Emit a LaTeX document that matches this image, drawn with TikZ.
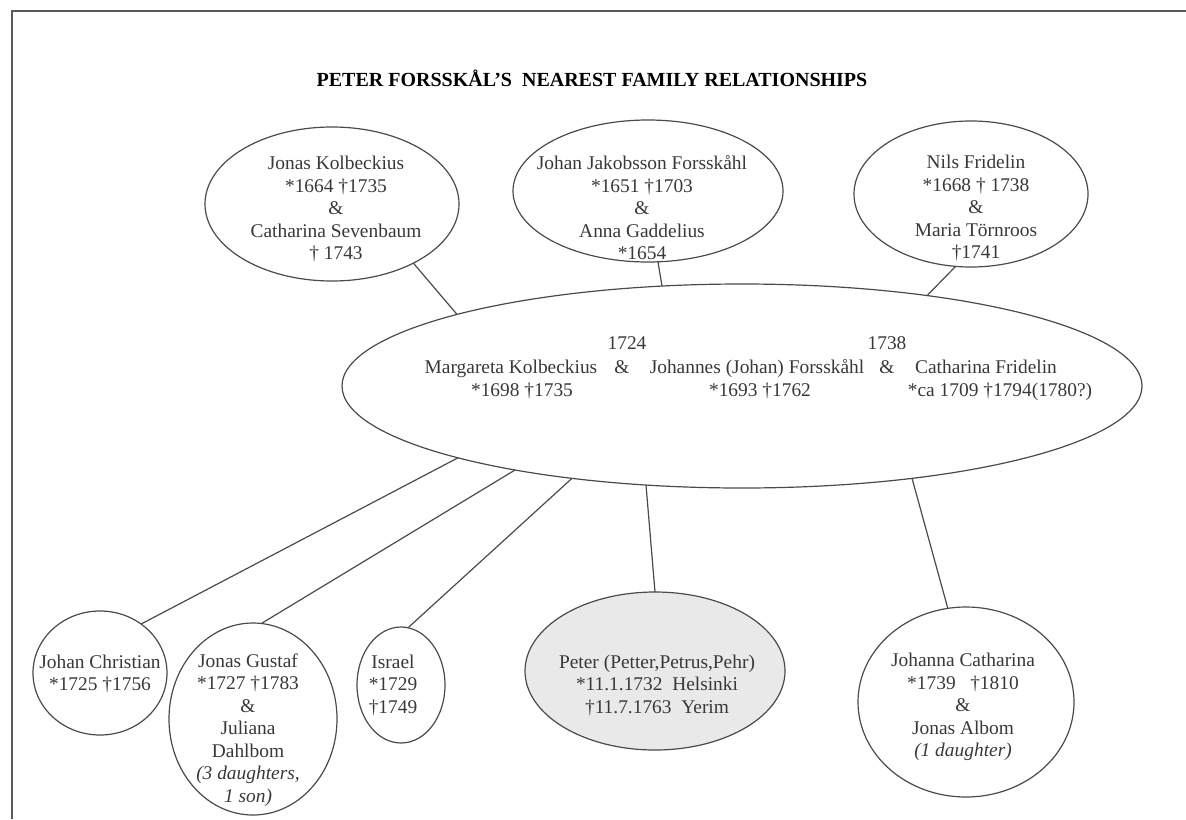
\documentclass[tikz,border=0pt]{standalone}
\usepackage{fontspec}
\setmainfont{Liberation Serif}
\usetikzlibrary{shapes.geometric}
\definecolor{linec}{HTML}{4A4A4A}
\definecolor{textc}{HTML}{383838}
\definecolor{framec}{HTML}{5A5A5A}
\definecolor{peterfill}{HTML}{E9E9E9}
\tikzset{
  fam/.style={ellipse, draw=linec, line width=0.6pt, inner sep=0pt, outer sep=0pt},
  txt/.style={align=center, text=textc, inner sep=0pt, font=\fontsize{9.7}{11.25}\selectfont},
  one/.style={txt, text height=6.5pt, text depth=0pt},
  link/.style={draw=linec, line width=0.6pt},
  frame/.style={draw=framec, line width=0.8pt}
}
\begin{document}
\begin{tikzpicture}[x=0.5pt, y=-0.5pt]
\useasboundingbox (0,0) rectangle (1186,819);
% frame
\coordinate (fa) at (12,819);
\coordinate (fb) at (12,11);
\coordinate (fc) at (1186,11);
\draw[frame] (fa) -- (fb) -- (fc);
% title
\node[text=black, inner sep=0pt, font=\fontsize{10}{12}\selectfont\bfseries] (title) at (592,78) {PETER FORSSKÅL'S\ \ NEAREST FAMILY RELATIONSHIPS};
% top ellipses
\node[fam, minimum width=127pt, minimum height=77pt] (e1) at (332,204) {};
\node[txt] (e1t) at (336,209) {Jonas Kolbeckius\\ *1664 †1735\\ \&\\ Catharina Sevenbaum\\ † 1743};
\node[fam, minimum width=135pt, minimum height=71pt] (e2) at (648,191) {};
\node[txt] (e2t) at (642,208) {Johan Jakobsson Forsskåhl\\ *1651 †1703\\ \&\\ Anna Gaddelius\\ *1654};
\node[fam, minimum width=117pt, minimum height=73pt] (e3) at (971,194) {};
\node[txt] (e3t) at (976,208) {Nils Fridelin\\ *1668 † 1738\\ \&\\ Maria Törnroos\\ †1741};
% big ellipse
\node[fam, minimum width=400pt, minimum height=102pt] (big) at (742,386) {};
\node[one] (y1724) at (627,343) {1724};
\node[one] (y1738) at (887,343) {1738};
\node[one] (mk) at (511,367) {Margareta Kolbeckius};
\node[one] (amp1) at (622,367) {\&};
\node[one] (jf) at (757,367) {Johannes (Johan) Forsskåhl};
\node[one] (amp2) at (887,367) {\&};
\node[one] (cf) at (986,367) {Catharina Fridelin};
\node[one] (mkd) at (522,390) {*1698 †1735};
\node[one] (jfd) at (760,390) {*1693 †1762};
\node[one] (cfd) at (1000,390) {*ca 1709 †1794(1780?)};
% children
\node[fam, minimum width=67pt, minimum height=62pt] (jc) at (100,673) {};
\node[txt] (jct) at (100,674) {Johan Christian\\ *1725 †1756};
\node[fam, minimum width=84pt, minimum height=96pt] (jg) at (253,719) {};
\node[txt] (jgt) at (248,730) {Jonas Gustaf\\ *1727 †1783\\ \&\\ Juliana\\ Dahlbom\\ \textit{(3 daughters,}\\ \textit{1 son)}};
\node[fam, minimum width=44pt, minimum height=58pt] (is) at (401,685) {};
\node[txt] (ist) at (393,685) {Israel\\ *1729\\ †1749};
\node[fam, fill=peterfill, minimum width=130pt, minimum height=79pt] (pe) at (655,671) {};
\node[txt] (pet) at (657,685) {Peter (Petter,Petrus,Pehr)\\ *11.1.1732\ \ Helsinki\\ †11.7.1763\ \ Yerim};
\node[fam, minimum width=108pt, minimum height=95pt] (jo) at (966,702) {};
\node[txt] (jot) at (963,707) {Johanna Catharina\\ *1739\ \ \ †1810\\ \&\\ Jonas Albom\\ \textit{(1 daughter)}};
% connectors
\draw[link] (e1.-36.5) -- ([shift={(-285,-71.6)}]big.center);
\draw[link] (e2.-82.6) -- ([shift={(-80,-100)}]big.center);
\draw[link] (e3.-102.2) -- ([shift={(185,-90.4)}]big.center);
\draw[link] ([shift={(-284,71.8)}]big.center) -- (jc.50.9);
\draw[link] ([shift={(-227,84)}]big.center) -- (jg.85.8);
\draw[link] ([shift={(-170,92.3)}]big.center) -- (is.83.3);
\draw[link] ([shift={(-96,99)}]big.center) -- (pe.90);
\draw[link] ([shift={(170,92.3)}]big.center) -- (jo.101.6);
\end{tikzpicture}
\end{document}
